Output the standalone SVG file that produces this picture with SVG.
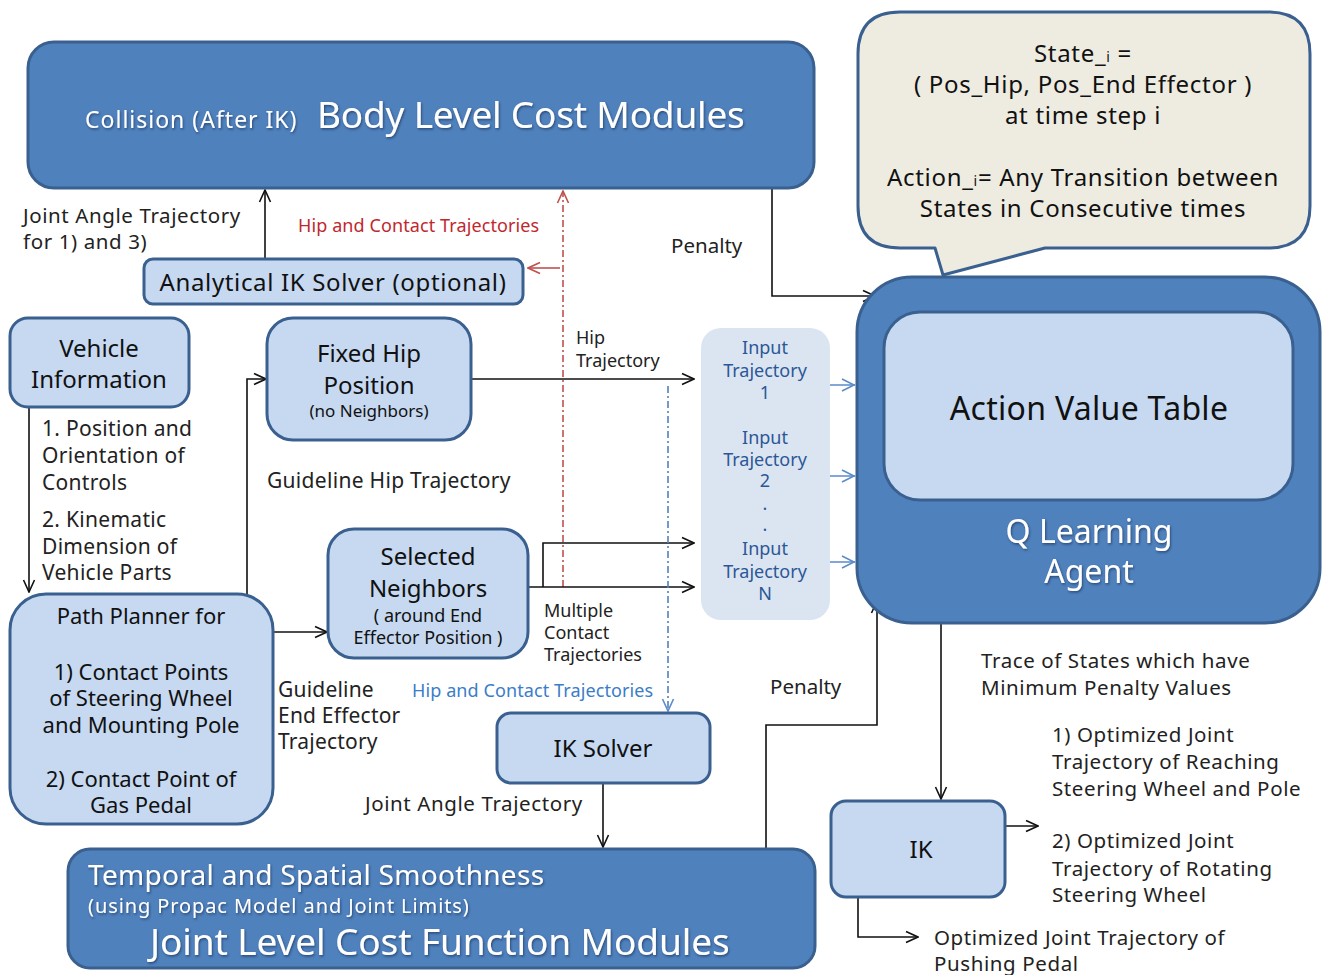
<svg xmlns="http://www.w3.org/2000/svg" width="1324" height="975" viewBox="0 0 1324 975">
  <style>
    text { font-family: "Noto Sans", "Open Sans", "DejaVu Sans", sans-serif; }
    .dark { fill: #4f81bd; stroke: #3a6090; stroke-width: 3; }
    .light { fill: #c6d9f1; stroke: #3a6090; stroke-width: 3; }
    .lbl { fill: #222; font-size: 20.5px; letter-spacing: 0.6px; }
    .wt { fill: #fff; }
    .blk { fill: #111; }
    .conn { fill: none; stroke: #111; stroke-width: 1.6; }
    .red { fill: none; stroke: #c0504d; stroke-width: 1.6; stroke-dasharray: 7 3 2 3; }
    .blu { fill: none; stroke: #4f81bd; stroke-width: 1.6; stroke-dasharray: 7 3 2 3; }
    .inp { fill: #2b5797; font-size: 18px; }
  </style>
  <defs>
    <marker id="ah" viewBox="0 0 14 14" refX="13" refY="7" markerWidth="14" markerHeight="14" markerUnits="userSpaceOnUse" orient="auto">
      <path d="M1,1.5 L13,7 L1,12.5" fill="none" stroke="#111" stroke-width="1.6"/>
    </marker>
    <marker id="ahr" viewBox="0 0 14 14" refX="13" refY="7" markerWidth="14" markerHeight="14" markerUnits="userSpaceOnUse" orient="auto">
      <path d="M1,1.5 L13,7 L1,12.5" fill="none" stroke="#c0504d" stroke-width="1.6"/>
    </marker>
    <marker id="ahb" viewBox="0 0 14 14" refX="13" refY="7" markerWidth="14" markerHeight="14" markerUnits="userSpaceOnUse" orient="auto">
      <path d="M1,1.5 L13,7 L1,12.5" fill="none" stroke="#5b8bc9" stroke-width="1.6"/>
    </marker>
    <filter id="sh" x="-5%" y="-20%" width="110%" height="140%">
      <feDropShadow dx="1" dy="1.5" stdDeviation="0.8" flood-color="#1d3557" flood-opacity="0.7"/>
    </filter>
  </defs>

  <!-- connectors -->
  <g id="connectors">
    <!-- analytical IK to body level -->
    <path class="conn" d="M265,259 V190" marker-end="url(#ah)"/>
    <!-- body level penalty to agent -->
    <path class="conn" d="M772,188 V296 H875" marker-end="url(#ah)"/>
    <!-- hip and contact trajectories (red) -->
    <path class="red" d="M563,587 V191" marker-end="url(#ahr)"/>
    <path d="M560,268 H528" fill="none" stroke="#c0504d" stroke-width="1.6" marker-end="url(#ahr)"/>
    <!-- vehicle info to path planner -->
    <path class="conn" d="M29,407 V592" marker-end="url(#ah)"/>
    <!-- path planner to fixed hip -->
    <path class="conn" d="M247,600 V379 H266" marker-end="url(#ah)"/>
    <!-- path planner to selected neighbors -->
    <path class="conn" d="M268,632 H327" marker-end="url(#ah)"/>
    <!-- fixed hip to input trajectory -->
    <path class="conn" d="M471,379 H694" marker-end="url(#ah)"/>
    <!-- selected neighbors to input trajectories -->
    <path class="conn" d="M528,587 H694" marker-end="url(#ah)"/>
    <path class="conn" d="M543,587 V543 H694" marker-end="url(#ah)"/>
    <!-- hip and contact trajectories (blue) -->
    <path class="blu" d="M668,386 V711" marker-end="url(#ahb)"/>
    <!-- input trajectories to agent -->
    <path d="M830,385 H855 M830,476 H855 M830,562 H855" fill="none" stroke="#5b8bc9" stroke-width="1.6"/>
    <path d="M842,379 L854,385 L842,391 M842,470 L854,476 L842,482 M842,556 L854,562 L842,568" fill="none" stroke="#5b8bc9" stroke-width="1.6"/>
    <!-- IK solver to joint level -->
    <path class="conn" d="M603,783 V847" marker-end="url(#ah)"/>
    <!-- joint level penalty to agent -->
    <path class="conn" d="M766,849 V725 H877 V601" marker-end="url(#ah)"/>
    <!-- agent to IK -->
    <path class="conn" d="M941,623 V799" marker-end="url(#ah)"/>
    <!-- IK outputs -->
    <path class="conn" d="M1005,826 H1038" marker-end="url(#ah)"/>
    <path class="conn" d="M858,897 V937 H918" marker-end="url(#ah)"/>
  </g>

  <!-- body level cost modules -->
  <g id="body-level">
    <rect class="dark" x="28" y="42" width="786" height="146" rx="26"/>
    <g filter="url(#sh)">
      <text class="wt" x="85" y="128" font-size="23" letter-spacing="1">Collision (After IK)</text>
      <text class="wt" x="317" y="128" font-size="37" letter-spacing="-0.2">Body Level Cost Modules</text>
    </g>
  </g>

  <!-- analytical IK solver -->
  <g id="analytical-ik">
    <rect class="light" x="144" y="259" width="379" height="45" rx="9"/>
    <text class="blk" x="333" y="291" font-size="24" letter-spacing="0.65" text-anchor="middle">Analytical IK Solver (optional)</text>
  </g>

  <!-- state / action note -->
  <g id="note">
    <path d="M900,12 H1268 Q1310,12 1310,54 V206 Q1310,248 1268,248 H1045 L943,275 L935,248 H900 Q858,248 858,206 V54 Q858,12 900,12 Z" fill="#eeece1" stroke="#3a6090" stroke-width="3" stroke-linejoin="round"/>
    <g class="blk" font-size="24" letter-spacing="0.7" text-anchor="middle">
      <text x="1083" y="62">State_<tspan font-size="14">i</tspan> =</text>
      <text x="1083" y="93">( Pos_Hip, Pos_End Effector )</text>
      <text x="1083" y="124">at time step i</text>
      <text x="1083" y="186">Action_<tspan font-size="14">i</tspan>= Any Transition between</text>
      <text x="1083" y="217">States in Consecutive times</text>
    </g>
  </g>

  <!-- Q learning agent -->
  <g id="q-agent">
    <rect class="dark" x="857" y="277" width="463" height="346" rx="55"/>
    <rect class="light" x="884" y="312" width="409" height="188" rx="36"/>
    <text class="blk" x="1089" y="420" font-size="32" letter-spacing="0.3" text-anchor="middle">Action Value Table</text>
    <g filter="url(#sh)" font-size="32" text-anchor="middle">
      <text class="wt" x="1089" y="543">Q Learning</text>
      <text class="wt" x="1089" y="583">Agent</text>
    </g>
  </g>

  <!-- vehicle information -->
  <g id="vehicle-info">
    <rect class="light" x="10" y="318" width="179" height="89" rx="18"/>
    <g class="blk" font-size="24" text-anchor="middle">
      <text x="99" y="357">Vehicle</text>
      <text x="99" y="388">Information</text>
    </g>
  </g>

  <!-- path planner -->
  <g id="path-planner">
    <rect class="light" x="10" y="594" width="263" height="230" rx="36"/>
    <g class="blk" font-size="22" text-anchor="middle">
      <text x="141" y="624">Path Planner for</text>
      <text x="141" y="680">1) Contact Points</text>
      <text x="141" y="706">of Steering Wheel</text>
      <text x="141" y="733">and Mounting Pole</text>
      <text x="141" y="787">2) Contact Point of</text>
      <text x="141" y="813">Gas Pedal</text>
    </g>
  </g>

  <!-- fixed hip position -->
  <g id="fixed-hip">
    <rect class="light" x="267" y="318" width="204" height="122" rx="26"/>
    <g class="blk" text-anchor="middle">
      <text x="369" y="362" font-size="24">Fixed Hip</text>
      <text x="369" y="394" font-size="24">Position</text>
      <text x="369" y="417" font-size="17">(no Neighbors)</text>
    </g>
  </g>

  <!-- selected neighbors -->
  <g id="selected-neighbors">
    <rect class="light" x="328" y="529" width="200" height="129" rx="26"/>
    <g class="blk" text-anchor="middle">
      <text x="428" y="565" font-size="24">Selected</text>
      <text x="428" y="597" font-size="24">Neighbors</text>
      <text x="428" y="622" font-size="18">( around End</text>
      <text x="428" y="644" font-size="18">Effector Position )</text>
    </g>
  </g>

  <!-- input trajectories -->
  <g id="input-trajectories">
    <rect x="701" y="328" width="129" height="292" rx="20" fill="#dbe5f1"/>
    <g class="inp" text-anchor="middle">
      <text x="765" y="354">Input</text>
      <text x="765" y="377">Trajectory</text>
      <text x="765" y="399">1</text>
      <text x="765" y="444">Input</text>
      <text x="765" y="466">Trajectory</text>
      <text x="765" y="487">2</text>
      <text x="765" y="510">.</text>
      <text x="765" y="531">.</text>
      <text x="765" y="555">Input</text>
      <text x="765" y="578">Trajectory</text>
      <text x="765" y="600">N</text>
    </g>
  </g>

  <!-- IK solver -->
  <g id="ik-solver">
    <rect class="light" x="497" y="713" width="213" height="70" rx="14"/>
    <text class="blk" x="603" y="757" font-size="24" text-anchor="middle">IK Solver</text>
  </g>

  <!-- joint level cost function modules -->
  <g id="joint-level">
    <rect class="dark" x="68" y="849" width="747" height="119" rx="22"/>
    <g filter="url(#sh)">
      <text class="wt" x="88" y="885" font-size="28" letter-spacing="0.3">Temporal and Spatial Smoothness</text>
      <text class="wt" x="88" y="913" font-size="20" letter-spacing="0.9">(using Propac Model and Joint Limits)</text>
      <text class="wt" x="150" y="955" font-size="37" letter-spacing="-0.1">Joint Level Cost Function Modules</text>
    </g>
  </g>

  <!-- IK -->
  <g id="ik">
    <rect class="light" x="831" y="801" width="174" height="96" rx="15"/>
    <text class="blk" x="921" y="858" font-size="24" text-anchor="middle">IK</text>
  </g>

  <!-- connector labels -->
  <g id="labels" class="lbl">
    <text x="23" y="223">Joint Angle Trajectory</text>
    <text x="23" y="249">for 1) and 3)</text>
    <text x="298" y="232" font-size="18" letter-spacing="0.1" fill="#c0282d">Hip and Contact Trajectories</text>
    <text x="671" y="253" letter-spacing="0">Penalty</text>
    <text x="42" y="436" font-size="21" letter-spacing="0.3">1. Position and</text>
    <text x="42" y="463" font-size="21" letter-spacing="0.3">Orientation of</text>
    <text x="42" y="490" font-size="21" letter-spacing="0.3">Controls</text>
    <text x="42" y="527" font-size="21" letter-spacing="0.3">2. Kinematic</text>
    <text x="42" y="554" font-size="21" letter-spacing="0.3">Dimension of</text>
    <text x="42" y="580" font-size="21" letter-spacing="0.3">Vehicle Parts</text>
    <text x="576" y="344" font-size="18" letter-spacing="0">Hip</text>
    <text x="576" y="367" font-size="18" letter-spacing="0">Trajectory</text>
    <text x="267" y="488" font-size="21" letter-spacing="0.3">Guideline Hip Trajectory</text>
    <text x="544" y="617" font-size="18" letter-spacing="0">Multiple</text>
    <text x="544" y="639" font-size="18" letter-spacing="0">Contact</text>
    <text x="544" y="661" font-size="18" letter-spacing="0">Trajectories</text>
    <text x="278" y="697" font-size="21" letter-spacing="0.2">Guideline</text>
    <text x="278" y="723" font-size="21" letter-spacing="0.2">End Effector</text>
    <text x="278" y="749" font-size="21" letter-spacing="0.2">Trajectory</text>
    <text x="412" y="697" font-size="18" letter-spacing="0.1" fill="#3a7dc9">Hip and Contact Trajectories</text>
    <text x="365" y="811">Joint Angle Trajectory</text>
    <text x="770" y="694" letter-spacing="0">Penalty</text>
    <text x="981" y="668">Trace of States which have</text>
    <text x="981" y="695">Minimum Penalty Values</text>
    <text x="1052" y="742">1) Optimized Joint</text>
    <text x="1052" y="769">Trajectory of Reaching</text>
    <text x="1052" y="796">Steering Wheel and Pole</text>
    <text x="1052" y="848">2) Optimized Joint</text>
    <text x="1052" y="876">Trajectory of Rotating</text>
    <text x="1052" y="902">Steering Wheel</text>
    <text x="934" y="945">Optimized Joint Trajectory of</text>
    <text x="934" y="971">Pushing Pedal</text>
  </g>
</svg>
